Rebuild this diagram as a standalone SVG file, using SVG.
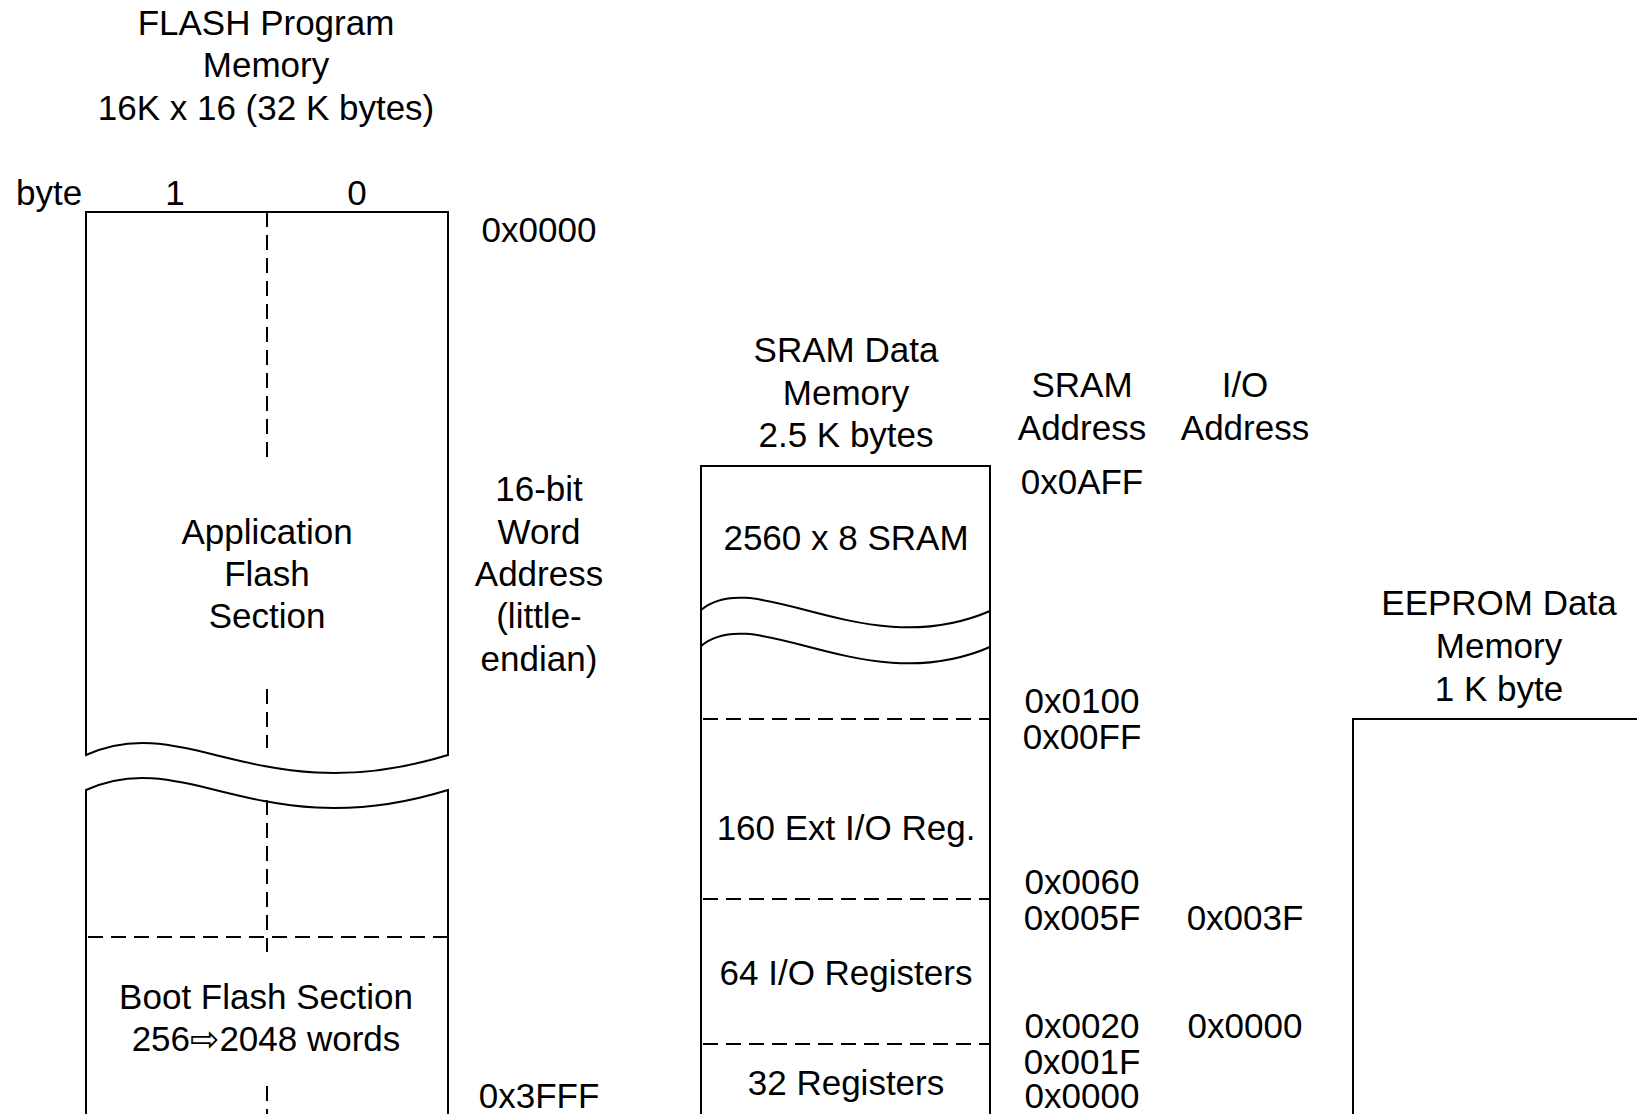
<svg xmlns="http://www.w3.org/2000/svg" width="1637" height="1114" viewBox="0 0 1637 1114">
  <style>
    text { font-family: "Liberation Sans", Arial, "DejaVu Sans", sans-serif; font-size: 35px; fill: #000; }
    .c { text-anchor: middle; }
    .edge { fill: none; stroke: #000; stroke-width: 2; }
    .dash { fill: none; stroke: #000; stroke-width: 2; stroke-dasharray: 15 8; }
  </style>
  <rect width="1637" height="1114" fill="#fff"/>

  <!-- Program memory (flash) -->
  <g id="flash">
    <text class="c" x="266" y="35">FLASH Program</text>
    <text class="c" x="266" y="77">Memory</text>
    <text class="c" x="266" y="120">16K x 16 (32 K bytes)</text>
    <text x="16" y="205">byte</text>
    <text class="c" x="175" y="205">1</text>
    <text class="c" x="357" y="205">0</text>
    <!-- upper part, broken by a wave -->
    <path class="edge" d="M86,755 L86,212 L448,212 L448,755 C260,813 186,709 86,755 Z"/>
    <!-- lower part -->
    <path class="edge" d="M86,1120 L86,790 C186,744 260,848 448,790 L448,1120"/>
    <!-- byte divider -->
    <path class="dash" d="M267,212 V464 M267,689 V748 M267,800 V952 M267,1086 V1120"/>
    <path class="dash" d="M88,937 H448"/>
    <text class="c" x="267" y="544">Application</text>
    <text class="c" x="267" y="586">Flash</text>
    <text class="c" x="267" y="628">Section</text>
    <text class="c" x="266" y="1009">Boot Flash Section</text>
    <text class="c" x="266" y="1051">256⇨2048 words</text>
  </g>

  <g id="flash-addresses">
    <text class="c" x="539" y="242">0x0000</text>
    <text class="c" x="539" y="501">16-bit</text>
    <text class="c" x="539" y="544">Word</text>
    <text class="c" x="539" y="586">Address</text>
    <text class="c" x="539" y="628">(little-</text>
    <text class="c" x="539" y="671">endian)</text>
    <text class="c" x="539" y="1108">0x3FFF</text>
  </g>

  <!-- Data memory (SRAM) -->
  <g id="sram">
    <text class="c" x="846" y="362">SRAM Data</text>
    <text class="c" x="846" y="405">Memory</text>
    <text class="c" x="846" y="447">2.5 K bytes</text>
    <path class="edge" d="M701,1120 V466 H990 V1120"/>
    <path class="edge" d="M701,610 C755,564 865,665 990,611"/>
    <path class="edge" d="M701,646 C755,600 865,701 990,647"/>
    <path class="dash" d="M703,719 H990 M703,899 H990 M703,1044 H990"/>
    <text class="c" x="846" y="550">2560 x 8 SRAM</text>
    <text class="c" x="846" y="840">160 Ext I/O Reg.</text>
    <text class="c" x="846" y="985">64 I/O Registers</text>
    <text class="c" x="846" y="1095">32 Registers</text>
  </g>

  <g id="sram-addresses">
    <text class="c" x="1082" y="397">SRAM</text>
    <text class="c" x="1082" y="440">Address</text>
    <text class="c" x="1082" y="494">0x0AFF</text>
    <text class="c" x="1082" y="713">0x0100</text>
    <text class="c" x="1082" y="749">0x00FF</text>
    <text class="c" x="1082" y="894">0x0060</text>
    <text class="c" x="1082" y="930">0x005F</text>
    <text class="c" x="1082" y="1038">0x0020</text>
    <text class="c" x="1082" y="1074">0x001F</text>
    <text class="c" x="1082" y="1108">0x0000</text>
  </g>

  <g id="io-addresses">
    <text class="c" x="1245" y="397">I/O</text>
    <text class="c" x="1245" y="440">Address</text>
    <text class="c" x="1245" y="930">0x003F</text>
    <text class="c" x="1245" y="1038">0x0000</text>
  </g>

  <!-- EEPROM -->
  <g id="eeprom">
    <text class="c" x="1499" y="615">EEPROM Data</text>
    <text class="c" x="1499" y="658">Memory</text>
    <text class="c" x="1499" y="701">1 K byte</text>
    <path class="edge" d="M1353,1120 V719 H1640"/>
  </g>
</svg>
